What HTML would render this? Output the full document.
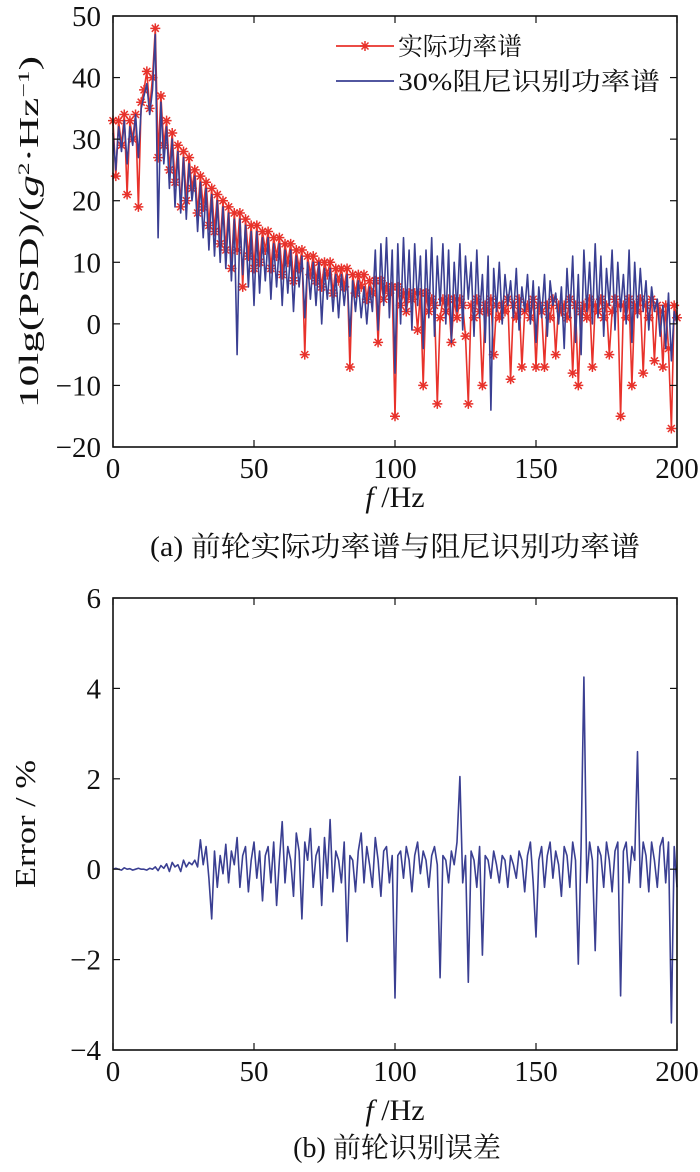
<!DOCTYPE html>
<html><head><meta charset="utf-8"><style>
body{margin:0;background:#fff}
svg text{font-family:"Liberation Serif","Noto Serif CJK SC",serif;fill:#111}
</style></head><body>
<svg id="c" width="700" height="1167" viewBox="0 0 700 1167" xmlns="http://www.w3.org/2000/svg"></svg>
<script>
const freqStep = 1;
const redPsd = [33,24,33,29,34,21,33,30,34,19,36,
38,41,35,40,48,27,37,29,33,25,
31,23,29,19,28,20,27,22,25,18,
24,19,23,16,22,15,21,13,20,12,
19,9,18,12,18,6,17,11,16,9,
16,10,15,12,15,9,14,11,14,8,
13,10,13,7,12,9,12,-5,11,8,
11,7,10,6,10,8,10,5,9,7,
9,6,9,-7,8,5,8,6,8,4,
7,5,7,-3,7,4,6,5,6,-15,
6,3,5,2,5,4,5,-1,5,-10,
5,2,4,3,-13,1,4,2,4,-3,
4,1,4,3,-2,-13,3,1,4,2,
-10,3,2,4,-5,3,1,3,2,4,
-9,3,1,4,-7,2,3,1,4,-7,
3,2,-7,3,1,4,-5,3,2,3,
1,4,-8,3,-10,2,3,1,4,-7,
3,2,4,1,3,-5,2,4,3,-15,
3,1,4,-10,3,2,4,-8,3,1,
4,-6,3,2,-7,3,-4,-17,3,1];
const bluePsd = [31,25,32,28,33,26,32,29,34,27,35,
37,39,34,38,47,14,36,26,32,22,
30,19,28,18,27,17,26,20,24,15,
23,14,22,12,21,11,20,10,19,9,
18,7,17,-5,17,8,16,6,15,3,
15,5,14,7,14,4,13,6,13,3,
12,5,12,2,11,6,11,1,10,4,
10,3,10,0,9,4,9,2,8,1,
8,3,8,-2,7,2,7,1,6,0,
6,2,12,-1,13,3,14,1,12,-8,
13,0,14,2,12,-1,13,3,11,-4,
12,1,14,-2,11,3,13,0,12,-3,
10,2,13,-1,11,4,10,-2,12,1,
8,-3,11,-14,9,2,10,0,8,3,
7,1,9,-1,6,2,8,0,7,-3,
6,1,8,-2,7,3,5,0,6,-4,
9,1,11,-3,8,-5,12,2,10,0,
13,1,11,-2,9,3,12,-1,10,2,
8,0,12,-3,10,1,9,2,7,-1,
6,2,4,-2,3,-4,5,-6,2,0];
const errorPct = [0,0.02,0,-0.02,0.03,0,0.01,-0.02,0,0.02,0,
0,-0.02,0.02,0,0.05,-0.03,0.08,0.02,0.12,-0.05,
0.15,0.05,0.1,-0.05,0.2,0.05,0.15,0.1,0.2,0.05,
0.65,0.1,0.5,-0.2,-1.1,0.4,-0.4,0.3,-0.1,0.55,
-0.3,0.4,0.1,0.7,-0.4,0.3,0.5,-0.5,0.2,0.6,
-0.2,0.4,-0.7,0.3,0.5,-0.3,0.6,-0.8,0.2,1.05,
-0.3,0.5,0.2,-0.6,0.8,0.4,-1.1,0.6,0.2,0.9,
-0.4,0.3,0.5,-0.8,0.7,-0.2,1.1,-0.5,0.4,0.2,
-0.3,0.6,-1.6,0.3,0.2,-0.5,0.4,0.8,-0.3,0.5,
0.1,-0.4,0.7,0.2,-0.6,0.4,0.5,-0.3,0.3,-2.85,
0.3,0.4,-0.2,0.5,0.2,-0.5,0.3,0.6,-0.1,0.4,
0.2,-0.4,0.3,0.5,0.1,-2.4,0.3,0.2,-0.3,0.4,
0.1,0.6,2.05,-0.3,0.3,-2.5,0.4,0.2,-0.4,0.5,
-1.9,0.3,0.2,-0.2,0.4,0.1,-0.3,0.3,0.2,-0.4,
0.3,0.1,-0.2,0.4,0.2,-0.5,0.3,0.6,-0.3,-1.5,
0.2,0.5,-0.4,0.3,0.6,-0.2,0.4,0.1,-0.6,0.5,
0.3,-0.4,0.6,0.2,-2.1,0.5,4.25,-0.3,0.6,0.2,
-1.8,0.5,0.3,-0.4,0.6,0.2,-0.5,0.4,0.6,-2.8,
0.4,0.6,-0.3,0.5,0.2,2.6,-0.4,0.6,0.3,-0.5,
0.6,0.2,-0.4,0.5,0.7,-0.3,0.6,-3.4,0.5,-0.4];
const xTicks = [0,50,100,150,200];
const yTicksTop = [-20,-10,0,10,20,30,40,50];
const yTicksBot = [-4,-2,0,2,4,6];
const legendLabels = ["实际功率谱","30%阻尼识别功率谱"];

const svg = document.getElementById('c');
const NS = 'http://www.w3.org/2000/svg';
function mk(tag, attrs, parent){const e=document.createElementNS(NS,tag);for(const k in attrs)e.setAttribute(k,attrs[k]);(parent||svg).appendChild(e);return e;}
const RED='#e8322b', BLUE='#3a3f92';
const FS=29;

function axes(box, ymin, ymax){
  const sx=v=>box.x0+(v-0)/(200-0)*(box.x1-box.x0);
  const sy=v=>box.y1-(v-ymin)/(ymax-ymin)*(box.y1-box.y0);
  return {sx,sy};
}
function drawFrame(box, sx, sy, yTicks, pfx){
  const g=mk('g',{});
  
  
  const r=mk('rect',{x:box.x0,y:box.y0,width:box.x1-box.x0,height:box.y1-box.y0,fill:'none',stroke:'#111','stroke-width':1.6},g);
  
  
  xTicks.forEach(t=>{
    const x=sx(t);
    mk('line',{x1:x,x2:x,y1:box.y1,y2:box.y1-7,stroke:'#111','stroke-width':1.2},g);
    mk('line',{x1:x,x2:x,y1:box.y0,y2:box.y0+7,stroke:'#111','stroke-width':1.2},g);
    const tx=mk('text',{x:x,y:box.y1+31,'font-size':FS,'text-anchor':'middle'},g);
    tx.textContent=t;
    
    
  });
  yTicks.forEach(t=>{
    const y=sy(t);
    mk('line',{x1:box.x0,x2:box.x0+7,y1:y,y2:y,stroke:'#111','stroke-width':1.2},g);
    mk('line',{x1:box.x1,x2:box.x1-7,y1:y,y2:y,stroke:'#111','stroke-width':1.2},g);
    const ty=mk('text',{x:box.x0-12,y:y+10,'font-size':FS,'text-anchor':'end'},g);
    ty.textContent=(t<0?'\u2212'+(-t):t);
    
    
  });
}
function line(vals, sx, sy, color, name){
  const d=vals.map((v,i)=>(i?'L':'M')+sx(i*freqStep).toFixed(1)+','+sy(v).toFixed(1)).join('');
  const p=mk('path',{d:d,fill:'none',stroke:color,'stroke-width':1.6,'stroke-linejoin':'round'});
  
  
  return p;
}
function star(x,y,g){
  const s=5;
  mk('path',{d:`M${x-s},${y}H${x+s}M${x},${y-s}V${y+s}M${x-s*0.7},${y-s*0.7}L${x+s*0.7},${y+s*0.7}M${x-s*0.7},${y+s*0.7}L${x+s*0.7},${y-s*0.7}`,stroke:RED,'stroke-width':1.5,fill:'none'},g);
}

// Top chart
const topBox={x0:113,x1:677,y0:16,y1:447};
const T=axes(topBox,-20,50);
line(redPsd,T.sx,T.sy,RED,'actual-psd-line');
const mg=mk('g',{});


redPsd.forEach((v,i)=>star(T.sx(i*freqStep),T.sy(v),mg));
line(bluePsd,T.sx,T.sy,BLUE,'identified-psd-line');
drawFrame(topBox,T.sx,T.sy,yTicksTop,'top');

// legend
const lg=mk('g',{});


mk('line',{x1:336,x2:394,y1:46,y2:46,stroke:RED,'stroke-width':1.8},lg);
star(365,46,lg);
mk('line',{x1:336,x2:394,y1:81,y2:81,stroke:BLUE,'stroke-width':1.8},lg);
const l1=mk('text',{x:398,y:55,'font-size':25,textLength:124,lengthAdjust:'spacingAndGlyphs'},lg);l1.textContent=legendLabels[0];


const l2=mk('text',{x:398,y:90,'font-size':25,textLength:262,lengthAdjust:'spacingAndGlyphs'},lg);l2.textContent=legendLabels[1];



// Bottom chart
const botBox={x0:113,x1:677,y0:598,y1:1050};
const B=axes(botBox,-4,6);
line(errorPct,B.sx,B.sy,BLUE,'error-line');
drawFrame(botBox,B.sx,B.sy,yTicksBot,'bottom');
</script>
<svg width="700" height="1167" style="position:absolute;left:0;top:0" xmlns="http://www.w3.org/2000/svg">
<text x="0" y="0" font-size="27" text-anchor="middle" transform="translate(38 232) rotate(-90) scale(1.6 1)">10lg(PSD)/(<tspan font-style="italic">g</tspan><tspan font-size="16" dy="-9">2</tspan><tspan dy="9">·Hz</tspan><tspan font-size="16" dy="-9">−1</tspan><tspan dy="9">)</tspan></text>
<text x="395" y="507" font-size="30" text-anchor="middle"><tspan font-style="italic">f</tspan> /Hz</text>
<text x="395" y="556" font-size="28" text-anchor="middle" textLength="490" lengthAdjust="spacingAndGlyphs">(a) 前轮实际功率谱与阻尼识别功率谱</text>
<text x="35" y="824" font-size="28" text-anchor="middle" transform="rotate(-90 35 824)" textLength="128" lengthAdjust="spacingAndGlyphs">Error / %</text>
<text x="395" y="1120" font-size="30" text-anchor="middle"><tspan font-style="italic">f</tspan> /Hz</text>
<text x="397" y="1157" font-size="28" text-anchor="middle">(b) 前轮识别误差</text>
</svg>
</body></html>
